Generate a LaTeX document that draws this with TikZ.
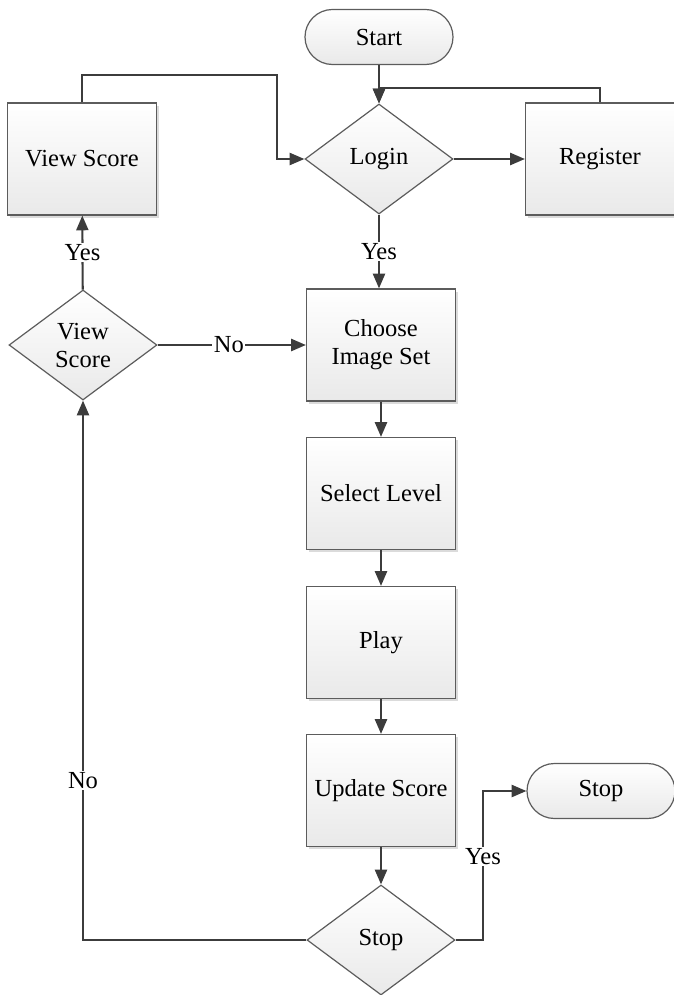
\documentclass[tikz,border=0pt]{standalone}
\usepackage{fontspec}
\setmainfont{Liberation Serif}
\usetikzlibrary{shapes.geometric,shadows,arrows.meta}

\definecolor{linegray}{HTML}{3C3C3C}
\definecolor{edgegray}{HTML}{5C5C5C}
\definecolor{shadegray}{HTML}{E9E9E9}

\tikzset{
	every node/.style={font=\fontsize{18.4}{21}\selectfont, text=black},
	stepbox/.style={rectangle, draw=edgegray, line width=0.9pt, top color=white, bottom color=shadegray,
		minimum width=111.75pt, minimum height=84pt, inner sep=0pt, align=center,
		drop shadow={shadow xshift=2.2pt, shadow yshift=-2.2pt, fill=black!14, opacity=1}},
	decision/.style={diamond, draw=edgegray, line width=0.9pt, top color=white, bottom color=shadegray,
		minimum width=111pt, minimum height=82.5pt, inner sep=0pt, align=center},
	terminal/.style={rectangle, rounded corners=20.6pt, draw=edgegray, line width=0.9pt,
		top color=white, bottom color=shadegray, minimum width=111pt, minimum height=41.25pt, inner sep=0pt},
	flow/.style={draw=linegray, line width=1.6pt, -{Triangle[length=11pt,width=9pt]}},
	answer/.style={fill=white, inner sep=1pt}
}

\begin{document}
\begin{tikzpicture}[x=0.75pt,y=-0.75pt]

	\useasboundingbox (0,0) rectangle (674,995);

	% main column
	\node[terminal] (start) at (379,37) {Start};
	\node[decision] (login) at (379,159) {Login};
	\node[stepbox] (choose) at (381,345) {Choose\\Image Set};
	\node[stepbox] (level) at (381,493.5) {Select Level};
	\node[stepbox] (play) at (381,642.5) {Play};
	\node[stepbox] (update) at (381,790.5) {Update Score};
	\node[decision] (stopdec) at (381,940) {Stop};

	% side branches
	\node[stepbox] (register) at (600,159) {Register};
	\node[stepbox] (viewbox) at (82,159) {View Score};
	\node[decision] (viewdec) at (83,345) {View\\Score};
	\node[terminal] (stop) at (601,791) {Stop};

	\coordinate (loginturn) at (277,159);
	\coordinate (yesturn) at (483,940);

	% connectors
	\draw[flow] (start) -- (login);
	\draw[flow] (register.north) -- ++(0,-14) -| (login.north);
	\draw[flow] (login) -- (register);
	\draw[flow] (viewbox.north) -- ++(0,-27) -| (loginturn) -- (login.west);
	\draw[flow] (login.south) -- node[answer] {Yes} (login.south |- choose.north);
	\draw[flow] (viewdec) -- node[answer] {Yes} (viewbox);
	\draw[flow] (viewdec) -- node[answer, pos=0.48] {No} (choose);
	\draw[flow] (choose) -- (level);
	\draw[flow] (level) -- (play);
	\draw[flow] (play) -- (update);
	\draw[flow] (update) -- (stopdec);
	\draw[flow] (stopdec.east) -- (yesturn) |- node[answer, pos=0.28] {Yes} (stop.west);
	\draw[flow] (stopdec.west) -| node[answer, pos=0.648] {No} (viewdec.south);

\end{tikzpicture}
\end{document}
